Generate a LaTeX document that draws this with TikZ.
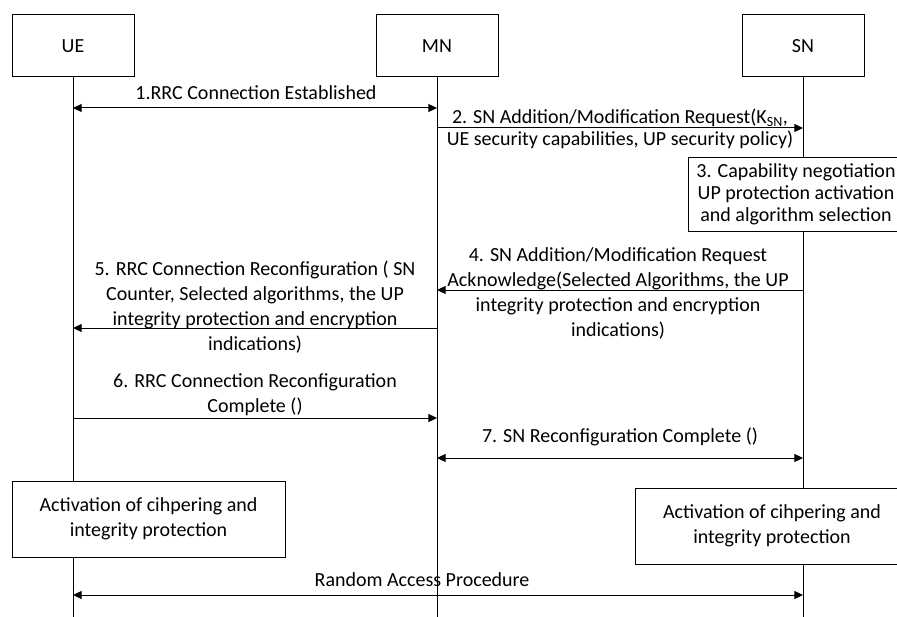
\documentclass[tikz,border=0pt]{standalone}
\usepackage{fontspec}
\setmainfont{Carlito}
\usetikzlibrary{arrows.meta}

\begin{document}
\begin{tikzpicture}[
    x=0.75pt, y=-0.75pt,
    every node/.style={font=\fontsize{15}{18.75}\selectfont, text=black},
    entity/.style={draw, line width=0.75pt, minimum width=91.5pt, minimum height=46.5pt},
    note/.style={draw, line width=0.75pt, fill=white, align=center, inner sep=0pt},
    lbl/.style={align=center, inner sep=0pt},
    tight/.style={font=\fontsize{15}{16.5}\selectfont},
    lifeline/.style={line width=0.75pt},
    msg/.style={line width=0.75pt, -{Triangle[length=6.5pt, width=6pt]}},
    dmsg/.style={line width=0.75pt, {Triangle[length=6.5pt, width=6pt]}-{Triangle[length=6.5pt, width=6pt]}}
]
\useasboundingbox (0,0) rectangle (897,617);
\clip (0,0) rectangle (897,617);

% Entities and lifelines
\node[entity] (ue) at (73,46) {UE};
\node[entity] (mn) at (437,46) {MN};
\node[entity] (sn) at (803,46) {SN};
\draw[lifeline] (ue.south) -- (73,617);
\draw[lifeline] (mn.south) -- (437,617);
\draw[lifeline] (sn.south) -- (803,617);

% Message points on the lifelines
\foreach \m/\y in {a/108, b/128, d/290, e/328, f/418, g/458, h/595} {
  \coordinate (ue-\m) at (73,\y);
  \coordinate (mn-\m) at (437,\y);
  \coordinate (sn-\m) at (803,\y);
}

% 1. RRC connection
\node[lbl] (l1) at (256,93) {1.RRC Connection Established};
\draw[dmsg] (ue-a) -- (mn-a);

% 2. SN addition request
\node[lbl, tight] (l2) at (620,129) {2. SN Addition/Modification Request(K\textsubscript{SN},\\UE security capabilities, UP security policy)};
\draw[msg] (mn-b) -- (sn-b);

% 3. Capability negotiation at SN
\node[note, tight, minimum width=162pt, minimum height=54.75pt] (n3) at (796,194.5) {3. Capability negotiation\\UP protection activation\\and algorithm selection};

% 4. Request acknowledge
\node[lbl] (l4) at (618,293) {4. SN Addition/Modification Request\\Acknowledge(Selected Algorithms, the UP\\integrity protection and encryption\\indications)};
\draw[msg] (sn-d) -- (mn-d);

% 5. RRC reconfiguration
\node[lbl] (l5) at (255,307.5) {5. RRC Connection Reconfiguration ( SN\\Counter, Selected algorithms, the UP\\integrity protection and encryption\\indications)};
\draw[msg] (mn-e) -- (ue-e);

% 6. RRC reconfiguration complete
\node[lbl] (l6) at (255,395) {6. RRC Connection Reconfiguration\\Complete ()};
\draw[msg] (ue-f) -- (mn-f);

% 7. SN reconfiguration complete
\node[lbl] (l7) at (620,437) {7. SN Reconfiguration Complete ()};
\draw[dmsg] (mn-g) -- (sn-g);

% Activation of security
\node[note, minimum width=204.75pt, minimum height=57pt] (actue) at (148.5,519) {Activation of cihpering and\\integrity protection};
\node[note, minimum width=205.5pt, minimum height=57pt] (actsn) at (772,526) {Activation of cihpering and\\integrity protection};

% Random access
\node[lbl] (lra) at (422,580) {Random Access Procedure};
\draw[dmsg] (ue-h) -- (sn-h);

\end{tikzpicture}
\end{document}
